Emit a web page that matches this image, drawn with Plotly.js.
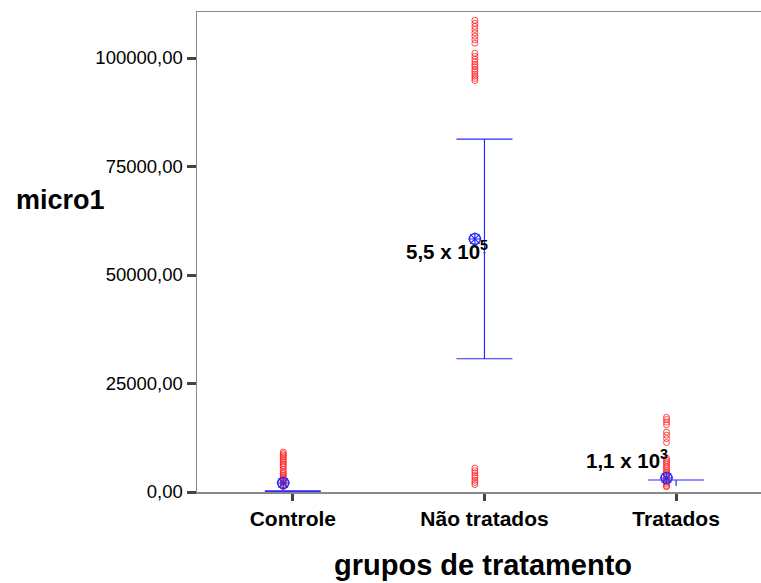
<!DOCTYPE html>
<html>
<head>
<meta charset="utf-8">
<script src="https://cdn.plot.ly/plotly-3.0.1.min.js"></script>
<style>html,body{margin:0;padding:0;background:#fff;}</style>
</head>
<body>
<div id="chart" style="width:761px;height:583px;"></div>
<script>
// ---- data ----
const categories = ["Controle", "Não tratados", "Tratados"];
const pointsControle = [9200, 8850, 8500, 8150, 7700, 7300, 6900, 6500, 6100, 5800,
  5200, 4700, 4300, 3900, 3600, 3200, 2900, 2600, 2300, 2000, 1700, 1400, 1200];
const pointsNaoTratados = [108700, 108000, 107300, 106600, 105800, 105000, 104200, 103400,
  101100, 100400, 99700, 99100, 98500, 98000, 97400, 96900, 96300, 95800, 95300, 94800,
  5500, 4900, 4400, 3800, 3300, 2700, 2200, 1700];
const pointsTratados = [17200, 16700, 16100, 15500,
  13800, 13100, 12300, 11400,
  7800, 7300, 6900, 6400, 5900, 5500, 5000, 4600, 4200, 3800, 3400, 3000, 2600, 2200, 1800, 1400, 1200];
const meanValues = [2070, 58300, 3230];
const errCenter = [120, 55100, 2070];
const errHigh = [250, 81300, 2770];
const errLow = [0, 30700, 1380];
const errCapLow = [true, true, false];
const yTickVals = [0, 25000, 50000, 75000, 100000];
const meanLabels = ["", "5,5 x 10<sup>5</sup>", "1,1 x 10<sup>3</sup>"];
const labelY = [0, 55100, 6900];

// ---- style ----
const OFFSET = 0.05;
const RED = "rgba(255,20,20,0.75)";
const BLUE = "#2a2aff";
const FONT = "Liberation Sans, Arial, sans-serif";

const pointSets = [pointsControle, pointsNaoTratados, pointsTratados];
const traces = [];
pointSets.forEach((vals, i) => {
  traces.push({
    type: "scatter", mode: "markers",
    x: vals.map(() => i - OFFSET), y: vals,
    marker: {symbol: "circle-open", size: 6, color: RED, line: {width: 1, color: RED}},
    cliponaxis: false, hoverinfo: "y", showlegend: false
  });
});

categories.forEach((c, i) => {
  if (errCapLow[i]) {
    traces.push({
      type: "scatter", mode: "markers",
      x: [i], y: [errCenter[i]],
      marker: {size: 2, color: BLUE},
      error_y: {
        type: "data", symmetric: false,
        array: [errHigh[i] - errCenter[i]],
        arrayminus: [errCenter[i] - errLow[i]],
        width: 28, thickness: 1.2, color: BLUE
      },
      cliponaxis: false, showlegend: false
    });
  } else {
    traces.push({
      type: "scatter", mode: "lines",
      x: [i, i], y: [errLow[i], errHigh[i]],
      line: {color: BLUE, width: 1.2},
      cliponaxis: false, showlegend: false
    });
    traces.push({
      type: "scatter", mode: "markers",
      x: [i], y: [errHigh[i]],
      marker: {size: 1, color: BLUE, opacity: 0},
      error_y: {type: "data", array: [0], width: 28, thickness: 1.2, color: BLUE},
      cliponaxis: false, showlegend: false
    });
  }
});

traces.push({
  type: "scatter", mode: "markers",
  x: categories.map((c, i) => i - OFFSET), y: meanValues,
  marker: {symbol: "circle-open", size: 11, color: BLUE, line: {width: 1.5, color: BLUE}},
  cliponaxis: false, showlegend: false
});
traces.push({
  type: "scatter", mode: "markers",
  x: categories.map((c, i) => i - OFFSET), y: meanValues,
  marker: {symbol: "asterisk-open", size: 11, color: BLUE, line: {width: 1.2, color: BLUE}},
  cliponaxis: false, showlegend: false
});

const annotations = [];
meanLabels.forEach((t, i) => {
  if (!t) return;
  annotations.push({
    xref: "x", yref: "y", x: i, y: labelY[i],
    text: t, showarrow: false, xanchor: "right", yanchor: "middle",
    xshift: i === 1 ? 6 : -6, yshift: 3,
    font: {family: FONT, size: 20.5, color: "#000", weight: "bold"}
  });
});
annotations.push({
  xref: "paper", yref: "paper", x: -0.325, y: 0.608,
  xanchor: "left", yanchor: "middle", showarrow: false,
  text: "<b>micro1</b>", font: {family: FONT, size: 27, color: "#000"}
});
annotations.push({
  xref: "paper", yref: "paper", x: 0.507, y: -0.152,
  xanchor: "center", yanchor: "middle", showarrow: false,
  text: "<b>grupos de tratamento</b>", font: {family: FONT, size: 29, color: "#000"}
});

const layout = {
  width: 761, height: 583,
  margin: {l: 197, r: 0, t: 12, b: 91},
  paper_bgcolor: "#fff", plot_bgcolor: "#fff",
  separators: ",.",
  font: {family: FONT, color: "#000"},
  showlegend: false,
  xaxis: {
    range: [-0.5, 2.443],
    tickvals: categories.map((c, i) => i),
    ticktext: categories.map(c => "<b>" + c + "</b>"),
    tickfont: {family: FONT, size: 21, color: "#000"},
    ticks: "outside", ticklen: 7, tickwidth: 3, tickcolor: "#444",
    showline: true, linecolor: "#888", linewidth: 1.5, mirror: true,
    showgrid: false, zeroline: false, fixedrange: true
  },
  yaxis: {
    range: [0, 110600],
    tickvals: yTickVals, tickformat: ".2f",
    tickfont: {family: FONT, size: 18.5, color: "#000"},
    ticks: "outside", ticklen: 9, tickwidth: 3, tickcolor: "#444",
    showline: true, linecolor: "#888", linewidth: 1.5,
    showgrid: false, zeroline: false, fixedrange: true
  },
  annotations: annotations
};

Plotly.newPlot("chart", traces, layout, {displayModeBar: false, staticPlot: true});
</script>
</body>
</html>
